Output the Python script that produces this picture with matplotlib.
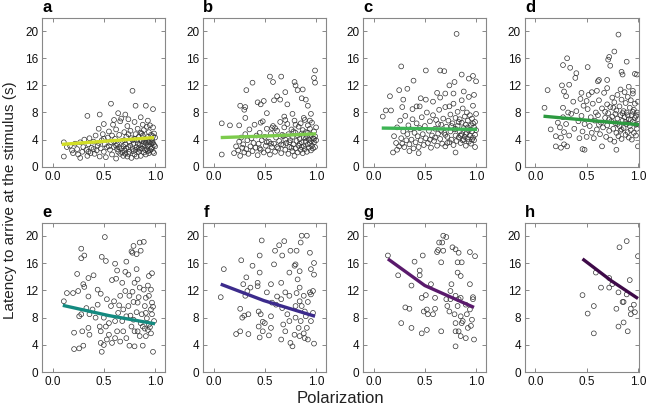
import numpy as np
import matplotlib
matplotlib.use('Agg')
import matplotlib.pyplot as plt

plt.rcParams['font.family'] = ['Liberation Sans', 'DejaVu Sans']

# (polarization, latency)
a_pts = [(0.11, 1.5), (0.11, 3.6), (0.34, 7.5), (0.46, 7.7), (0.57, 9.3), (0.78, 11.2), (0.81, 9.0), (0.91, 9.0),
         (0.98, 8.5), (0.64, 7.9), (0.71, 7.7), (0.5, 6.3), (0.6, 6.9), (0.67, 7.1), (0.74, 7.0), (0.86, 7.3),
         (0.93, 6.8), (0.95, 6.1), (0.98, 5.8), (0.88, 6.2), (0.14, 2.9), (0.17, 3.1), (0.19, 2.4), (0.2, 2.0),
         (0.22, 3.4), (0.24, 2.6), (0.25, 1.8), (0.27, 1.3), (0.27, 3.6), (0.29, 2.2), (0.3, 2.9), (0.31, 4.0),
         (0.33, 2.5), (0.34, 1.6), (0.35, 3.3), (0.36, 4.2), (0.37, 2.0), (0.38, 2.8), (0.4, 3.7), (0.41, 1.9),
         (0.42, 4.6), (0.43, 2.4), (0.44, 3.1), (0.45, 5.6), (0.46, 1.5), (0.47, 2.7), (0.48, 3.9), (0.49, 4.8),
         (0.5, 2.2), (0.51, 3.3), (0.52, 1.4), (0.53, 2.9), (0.54, 4.3), (0.55, 5.2), (0.56, 2.5), (0.57, 3.6),
         (0.58, 1.8), (0.59, 6.2), (0.6, 2.9), (0.61, 4.1), (0.62, 1.2), (0.62, 5.5), (0.63, 3.3), (0.64, 2.2),
         (0.65, 4.7), (0.66, 6.7), (0.67, 2.7), (0.68, 3.8), (0.69, 1.6), (0.7, 5.1), (0.7, 2.4), (0.71, 3.3),
         (0.72, 4.4), (0.73, 6.0), (0.74, 1.9), (0.74, 2.9), (0.75, 3.7), (0.76, 5.3), (0.77, 1.3), (0.77, 4.2),
         (0.78, 2.6), (0.79, 3.4), (0.8, 6.6), (0.8, 1.8), (0.81, 4.8), (0.82, 2.9), (0.82, 3.9), (0.83, 5.6),
         (0.84, 2.2), (0.84, 4.4), (0.85, 3.2), (0.86, 1.6), (0.86, 5.0), (0.87, 2.7), (0.87, 3.8), (0.88, 4.6),
         (0.89, 2.1), (0.89, 5.4), (0.9, 3.0), (0.9, 4.1), (0.91, 1.8), (0.91, 3.5), (0.92, 5.9), (0.92, 2.6),
         (0.93, 4.4), (0.93, 3.1), (0.94, 2.0), (0.94, 5.1), (0.95, 3.7), (0.95, 2.4), (0.96, 4.7), (0.96, 3.3),
         (0.97, 2.8), (0.97, 4.0), (0.98, 2.2), (0.98, 3.5), (0.99, 4.9), (0.99, 2.0), (1.0, 3.0), (1.0, 4.3),
         (0.55, 3.0), (0.6, 3.7), (0.65, 2.9), (0.68, 2.1), (0.72, 2.7), (0.76, 3.1), (0.79, 2.3), (0.83, 3.4),
         (0.85, 2.5), (0.88, 3.3), (0.92, 3.9), (0.96, 2.6), (0.35, 2.2), (0.4, 2.6), (0.45, 3.5), (0.5, 4.1),
         (0.58, 4.6), (0.63, 2.6), (0.7, 3.9), (0.75, 2.2), (0.8, 4.1), (0.87, 4.9), (0.9, 2.5), (0.94, 3.6),
         (0.98, 4.5), (0.73, 1.5), (0.66, 1.9), (0.82, 1.5), (0.62, 3.1), (0.69, 3.0), (0.74, 4.8), (0.78, 3.9),
         (0.84, 2.7), (0.89, 3.7), (0.93, 2.3), (0.97, 3.6), (0.99, 3.2), (0.86, 4.0), (0.81, 2.5), (0.71, 1.9)]

b_pts = [(0.08, 1.8), (0.08, 6.4), (0.16, 6.1), (0.25, 6.1), (0.26, 9.0), (0.31, 8.8), (0.30, 8.4), (0.32, 11.3),
         (0.38, 12.4), (0.31, 7.2), (0.43, 9.5), (0.46, 9.2), (0.49, 9.7), (0.55, 13.3), (0.58, 12.5), (0.59, 9.8),
         (0.62, 10.4), (0.65, 9.9), (0.66, 13.3), (0.70, 11.0), (0.72, 9.2), (0.80, 12.0), (0.79, 12.5), (0.82, 11.3),
         (0.87, 11.4), (0.86, 10.1), (0.90, 9.9), (0.92, 9.0), (0.98, 13.1), (0.99, 14.2), (0.99, 12.4), (0.95, 7.8),
         (0.77, 7.8), (0.69, 7.4), (0.52, 7.9), (0.46, 6.5), (0.57, 5.7),
         (0.2, 2.0), (0.22, 3.0), (0.24, 2.4), (0.25, 3.7), (0.26, 1.6), (0.27, 4.3), (0.28, 2.8), (0.29, 3.3),
         (0.3, 2.1), (0.31, 4.8), (0.32, 2.6), (0.33, 3.9), (0.34, 1.9), (0.35, 5.5), (0.36, 3.0), (0.37, 4.2),
         (0.38, 2.3), (0.39, 3.5), (0.4, 6.2), (0.41, 2.8), (0.42, 4.6), (0.43, 1.7), (0.44, 3.4), (0.45, 5.0),
         (0.46, 2.5), (0.47, 3.9), (0.48, 6.7), (0.49, 2.1), (0.5, 4.4), (0.51, 3.1), (0.52, 5.6), (0.53, 2.4),
         (0.54, 3.7), (0.55, 1.8), (0.56, 4.9), (0.57, 2.9), (0.58, 6.0), (0.59, 3.4), (0.6, 2.2), (0.61, 4.3),
         (0.62, 5.3), (0.63, 2.7), (0.64, 3.8), (0.65, 6.6), (0.66, 2.0), (0.67, 4.7), (0.68, 3.2), (0.69, 5.8),
         (0.7, 2.5), (0.7, 4.0), (0.71, 3.5), (0.72, 6.3), (0.73, 1.9), (0.73, 4.8), (0.74, 2.9), (0.75, 3.9),
         (0.76, 5.5), (0.77, 2.3), (0.77, 4.4), (0.78, 3.3), (0.79, 6.8), (0.79, 1.6), (0.8, 5.0), (0.8, 2.7),
         (0.81, 3.8), (0.82, 4.6), (0.82, 2.1), (0.83, 5.9), (0.83, 3.1), (0.84, 4.1), (0.85, 2.5), (0.85, 6.4),
         (0.86, 3.6), (0.86, 4.9), (0.87, 2.0), (0.87, 5.4), (0.88, 3.0), (0.88, 4.3), (0.89, 6.9), (0.89, 2.6),
         (0.9, 3.7), (0.9, 5.1), (0.91, 2.2), (0.91, 4.5), (0.92, 3.3), (0.92, 6.1), (0.93, 2.8), (0.93, 4.0),
         (0.94, 5.6), (0.94, 3.5), (0.95, 2.4), (0.95, 4.7), (0.96, 3.1), (0.96, 6.5), (0.97, 4.2), (0.97, 2.7),
         (0.98, 5.2), (0.98, 3.6), (0.99, 4.5), (0.99, 2.9), (1.0, 3.9), (1.0, 5.8), (0.56, 3.4), (0.62, 2.9),
         (0.68, 4.5), (0.74, 3.6), (0.78, 5.2), (0.84, 3.4), (0.9, 4.2), (0.95, 3.8), (0.45, 2.7), (0.52, 3.6),
         (0.66, 3.3), (0.76, 2.8), (0.86, 2.9), (0.92, 5.0), (0.98, 4.1), (0.6, 5.7), (0.7, 6.9), (0.8, 6.2),
         (0.88, 7.2), (0.94, 6.8)]

c_pts = [(0.09, 7.4), (0.12, 8.3), (0.16, 10.4), (0.17, 8.3), (0.27, 14.8), (0.25, 11.3), (0.29, 9.9), (0.33, 11.5),
         (0.28, 8.8), (0.39, 12.7), (0.42, 8.9), (0.46, 10.1), (0.51, 9.9), (0.51, 14.2), (0.65, 14.2), (0.69, 14.1),
         (0.81, 19.6), (0.79, 12.5), (0.86, 13.6), (0.93, 13.0), (0.97, 13.4), (1.0, 12.6), (0.74, 12.0), (0.62, 10.9),
         (0.70, 10.8), (0.88, 11.1), (0.19, 2.1), (0.23, 2.5), (0.35, 2.3), (0.44, 2.0), (0.80, 2.1), (0.99, 2.9),
         (0.2, 4.5), (0.22, 3.5), (0.23, 5.8), (0.25, 3.0), (0.26, 6.8), (0.27, 4.2), (0.28, 3.4), (0.29, 5.2),
         (0.3, 2.9), (0.31, 7.5), (0.32, 3.9), (0.33, 4.8), (0.34, 6.1), (0.35, 3.3), (0.36, 5.5), (0.37, 4.0),
         (0.38, 7.0), (0.39, 2.7), (0.4, 5.0), (0.41, 3.6), (0.42, 6.4), (0.43, 4.5), (0.44, 2.9), (0.45, 5.7),
         (0.46, 3.9), (0.47, 7.3), (0.48, 4.8), (0.49, 3.2), (0.5, 6.0), (0.51, 4.2), (0.52, 8.0), (0.53, 3.5),
         (0.54, 5.3), (0.55, 6.7), (0.56, 2.8), (0.57, 4.6), (0.58, 7.6), (0.59, 3.8), (0.6, 5.6), (0.61, 6.9),
         (0.62, 3.1), (0.63, 4.9), (0.64, 8.4), (0.65, 4.1), (0.66, 6.2), (0.67, 3.4), (0.68, 7.1), (0.69, 5.0),
         (0.7, 3.0), (0.7, 8.8), (0.71, 5.9), (0.72, 4.4), (0.73, 6.8), (0.74, 3.6), (0.75, 7.7), (0.75, 5.2),
         (0.76, 4.0), (0.77, 6.4), (0.78, 3.2), (0.78, 9.3), (0.79, 5.5), (0.8, 4.6), (0.8, 7.2), (0.81, 3.8),
         (0.82, 6.0), (0.82, 8.1), (0.83, 4.3), (0.84, 5.2), (0.84, 7.0), (0.85, 3.5), (0.86, 6.5), (0.86, 4.8),
         (0.87, 8.6), (0.87, 3.9), (0.88, 5.7), (0.89, 7.4), (0.89, 4.4), (0.9, 3.1), (0.9, 6.2), (0.91, 5.0),
         (0.91, 8.0), (0.92, 4.1), (0.92, 6.8), (0.93, 3.7), (0.93, 5.4), (0.94, 7.6), (0.94, 4.6), (0.95, 6.1),
         (0.95, 3.4), (0.96, 5.2), (0.96, 7.1), (0.97, 4.3), (0.97, 9.0), (0.98, 5.8), (0.98, 3.9), (0.99, 6.6),
         (0.99, 4.7), (1.0, 5.4), (1.0, 7.8), (0.6, 4.3), (0.66, 5.3), (0.72, 3.5), (0.76, 6.0), (0.8, 5.6),
         (0.85, 4.6), (0.88, 4.0), (0.92, 5.8), (0.96, 4.0), (0.55, 4.0), (0.63, 6.3), (0.7, 4.7), (0.83, 6.6),
         (0.9, 4.8), (0.97, 6.4), (0.74, 8.9), (0.86, 9.8), (0.93, 10.3), (0.98, 10.6), (0.58, 9.6), (0.65, 10.2),
         (0.45, 8.9), (0.38, 8.5), (0.78, 10.8)]

d_pts = [(0.09, 8.7), (0.12, 11.3), (0.15, 5.5), (0.31, 16.0), (0.27, 15.0), (0.34, 14.6), (0.40, 13.8), (0.39, 13.1),
         (0.51, 14.7), (0.26, 12.0), (0.33, 12.1), (0.28, 11.1), (0.30, 10.4), (0.27, 8.7), (0.20, 3.0), (0.25, 2.8),
         (0.28, 3.3), (0.31, 3.0), (0.46, 2.6), (0.48, 2.5), (0.81, 19.5), (0.77, 17.0), (0.72, 16.2), (0.71, 15.8),
         (0.73, 14.9), (0.89, 15.5), (0.61, 12.6), (0.62, 12.8), (0.70, 12.8), (0.84, 14.0), (0.85, 13.6), (0.97, 13.7),
         (0.99, 13.6), (0.79, 2.5), (1.0, 3.0), (0.65, 3.0),
         (0.2, 4.5), (0.22, 6.5), (0.24, 5.8), (0.25, 4.3), (0.27, 7.3), (0.28, 5.1), (0.3, 6.3), (0.32, 8.0),
         (0.33, 4.6), (0.35, 7.8), (0.37, 9.6), (0.38, 5.6), (0.4, 8.2), (0.42, 6.7), (0.43, 4.2), (0.44, 10.0),
         (0.45, 7.5), (0.46, 5.2), (0.47, 9.0), (0.48, 6.3), (0.5, 4.4), (0.51, 8.5), (0.52, 10.6), (0.53, 6.0),
         (0.54, 7.3), (0.55, 5.0), (0.56, 9.3), (0.57, 4.2), (0.58, 6.8), (0.59, 8.0), (0.6, 5.5), (0.61, 7.6),
         (0.62, 9.8), (0.63, 4.8), (0.64, 6.5), (0.65, 8.6), (0.66, 5.8), (0.67, 10.9), (0.68, 7.2), (0.69, 4.4),
         (0.7, 6.1), (0.7, 9.2), (0.71, 7.9), (0.72, 5.3), (0.73, 8.8), (0.73, 4.0), (0.74, 6.7), (0.75, 10.2),
         (0.75, 7.4), (0.76, 5.6), (0.77, 9.5), (0.77, 3.7), (0.78, 6.4), (0.79, 8.3), (0.79, 5.0), (0.8, 7.1),
         (0.8, 10.6), (0.81, 4.5), (0.82, 6.0), (0.82, 8.9), (0.83, 7.6), (0.83, 5.3), (0.84, 9.9), (0.84, 4.1),
         (0.85, 6.8), (0.86, 8.2), (0.86, 5.7), (0.87, 11.0), (0.87, 7.3), (0.88, 4.7), (0.88, 9.4), (0.89, 6.3),
         (0.89, 8.0), (0.9, 5.1), (0.9, 10.3), (0.91, 7.0), (0.91, 4.3), (0.92, 8.7), (0.92, 6.0), (0.93, 9.8),
         (0.93, 5.4), (0.94, 7.6), (0.94, 4.0), (0.95, 6.6), (0.95, 10.8), (0.96, 8.4), (0.96, 5.0), (0.97, 7.2),
         (0.97, 9.3), (0.98, 6.2), (0.98, 4.6), (0.99, 8.0), (0.99, 5.6), (1.0, 7.0), (1.0, 9.6), (0.72, 7.0),
         (0.78, 7.8), (0.85, 7.9), (0.9, 7.6), (0.95, 8.1), (0.8, 6.3), (0.88, 6.6), (0.93, 6.9), (0.76, 8.7),
         (0.84, 5.5), (0.62, 6.2), (0.68, 8.1), (0.98, 7.5), (0.6, 11.2), (0.7, 11.6), (0.83, 11.4), (0.91, 11.8),
         (0.95, 11.2), (0.55, 11.0), (0.5, 9.7), (0.45, 10.9)]

e_pts = [(0.11, 10.4), (0.14, 11.6), (0.2, 11.6), (0.21, 5.8), (0.21, 3.4), (0.26, 3.5), (0.30, 3.9), (0.28, 18.1),
         (0.28, 16.7), (0.31, 17.1), (0.24, 14.4), (0.30, 12.9), (0.31, 12.5), (0.25, 11.9), (0.35, 13.8), (0.40, 14.2),
         (0.26, 8.2), (0.28, 8.5), (0.36, 8.5), (0.35, 6.5), (0.36, 5.5), (0.29, 6.0), (0.35, 11.1), (0.44, 12.1),
         (0.47, 11.5), (0.48, 16.9), (0.52, 16.3), (0.51, 19.8), (0.48, 3.0), (0.50, 4.0), (0.47, 4.3), (0.46, 6.7),
         (0.52, 6.7), (0.55, 7.2), (0.61, 7.5), (0.61, 15.9), (0.63, 14.9), (0.58, 13.5), (0.62, 13.7), (0.68, 13.1),
         (0.71, 14.7), (0.72, 16.2), (0.74, 14.3), (0.77, 17.7), (0.79, 18.5), (0.78, 17.5), (0.82, 17.3), (0.85, 19.0),
         (0.89, 19.1), (0.86, 17.8), (0.82, 15.1), (0.85, 12.4), (0.89, 12.1), (0.94, 14.1), (0.97, 14.5), (0.98, 3.0),
         (0.80, 3.8), (0.75, 3.9), (0.88, 3.9), (0.66, 4.5), (0.58, 4.3), (0.72, 5.0), (0.64, 8.7), (0.69, 9.2),
         (0.74, 9.7), (0.79, 10.3), (0.83, 10.2), (0.91, 10.9), (0.94, 11.2), (0.97, 10.2), (0.96, 9.2), (0.91, 8.7),
         (0.88, 6.7), (0.93, 6.2), (0.96, 5.7), (0.83, 6.0), (0.79, 7.7), (0.72, 8.2), (0.68, 7.5), (0.63, 6.0),
         (0.55, 5.5), (0.50, 8.0), (0.57, 9.7), (0.60, 10.4), (0.53, 10.7), (0.44, 9.9), (0.39, 9.2), (0.66, 11.2),
         (0.71, 11.9), (0.75, 11.2), (0.80, 13.1), (0.83, 13.6), (0.93, 12.7), (0.96, 12.1), (0.77, 6.7), (0.80, 6.0),
         (0.85, 5.3), (0.91, 5.3), (0.94, 7.0), (0.97, 8.5), (0.99, 7.5), (0.87, 8.5), (0.90, 9.7), (0.69, 6.0),
         (0.61, 5.0), (0.53, 4.8), (0.47, 6.0), (0.42, 8.0), (0.33, 9.4), (0.86, 7.2), (0.92, 7.9), (0.95, 6.6),
         (0.82, 8.8), (0.76, 8.3), (0.90, 6.4), (0.98, 9.6), (0.84, 11.0), (0.78, 11.8), (0.65, 9.8)]

f_pts = [(0.07, 11.0), (0.10, 15.1), (0.27, 16.4), (0.22, 5.6), (0.26, 6.0), (0.34, 5.6), (0.28, 8.0), (0.30, 8.3),
         (0.34, 8.5), (0.26, 9.3), (0.31, 11.2), (0.33, 11.9), (0.32, 13.9), (0.29, 12.9), (0.38, 15.6), (0.43, 12.6),
         (0.43, 13.1), (0.45, 17.1), (0.47, 19.3), (0.45, 14.6), (0.44, 8.9), (0.46, 8.5), (0.44, 6.7), (0.48, 6.0),
         (0.45, 5.1), (0.50, 7.2), (0.48, 7.4), (0.52, 11.7), (0.56, 12.9), (0.57, 10.2), (0.54, 5.4), (0.56, 8.2),
         (0.61, 9.9), (0.62, 11.1), (0.60, 17.8), (0.59, 15.8), (0.64, 18.6), (0.69, 19.2), (0.67, 17.1), (0.66, 10.7),
         (0.67, 9.4), (0.68, 7.0), (0.66, 4.8), (0.70, 11.7), (0.74, 14.6), (0.75, 17.8), (0.74, 11.2), (0.72, 8.5),
         (0.74, 7.5), (0.75, 4.3), (0.77, 3.8), (0.79, 5.5), (0.80, 8.0), (0.79, 15.6), (0.80, 15.8), (0.81, 17.8),
         (0.84, 14.8), (0.85, 19.0), (0.86, 20.0), (0.91, 20.0), (0.94, 17.5), (0.95, 15.1), (0.98, 14.3), (0.98, 16.0),
         (0.82, 13.6), (0.84, 12.4), (0.81, 11.6), (0.84, 10.4), (0.86, 9.7), (0.89, 8.9), (0.90, 8.2), (0.92, 10.3),
         (0.95, 11.4), (0.97, 11.9), (0.94, 11.7), (0.88, 11.2), (0.85, 7.5), (0.83, 6.5), (0.88, 5.7), (0.89, 5.0),
         (0.84, 5.3), (0.91, 6.5), (0.95, 7.5), (0.97, 8.7), (0.98, 4.2), (0.70, 6.0), (0.56, 6.5), (0.36, 12.4),
         (0.66, 13.1), (0.92, 4.8), (0.80, 9.7)]

g_pts = [(0.14, 17.1), (0.24, 14.2), (0.27, 7.2), (0.31, 9.5), (0.35, 9.3), (0.37, 12.7), (0.37, 6.5), (0.40, 16.2),
         (0.45, 14.9), (0.45, 14.2), (0.48, 17.1), (0.47, 10.9), (0.51, 11.3), (0.49, 8.9), (0.52, 9.2), (0.53, 8.5),
         (0.47, 5.7), (0.52, 6.2), (0.56, 12.9), (0.58, 8.5), (0.60, 9.3), (0.60, 10.9), (0.62, 17.6), (0.63, 17.9),
         (0.64, 19.0), (0.67, 19.0), (0.68, 20.0), (0.71, 19.8), (0.68, 17.8), (0.66, 16.1), (0.66, 6.0), (0.71, 10.7),
         (0.72, 9.7), (0.75, 10.7), (0.74, 8.9), (0.75, 11.9), (0.76, 12.9), (0.77, 18.3), (0.80, 18.0), (0.83, 17.5),
         (0.82, 16.1), (0.86, 16.1), (0.82, 14.6), (0.85, 14.1), (0.80, 11.2), (0.83, 10.7), (0.85, 10.9), (0.82, 9.7),
         (0.79, 8.5), (0.80, 7.2), (0.85, 8.2), (0.86, 7.2), (0.87, 7.5), (0.83, 6.0), (0.80, 6.0), (0.85, 5.3),
         (0.90, 5.0), (0.80, 3.8), (0.90, 9.9), (0.91, 8.5), (0.92, 6.5), (0.95, 6.8), (0.96, 7.7), (0.94, 9.2),
         (0.97, 10.7), (0.94, 12.9), (0.94, 17.6), (0.99, 17.0), (0.98, 4.8), (0.97, 11.0)]

h_pts = [(0.46, 11.3), (0.51, 8.6), (0.57, 9.7), (0.57, 5.7), (0.59, 14.6), (0.64, 12.4), (0.72, 12.4), (0.72, 13.8),
         (0.82, 18.3), (0.89, 19.2), (1.0, 17.0), (0.92, 13.5), (0.79, 9.3), (0.81, 11.7), (0.81, 6.7), (0.85, 10.3),
         (0.86, 10.3), (0.86, 7.3), (0.90, 6.0), (0.89, 11.4), (0.93, 9.3), (0.93, 8.5), (0.96, 9.9), (0.97, 8.8),
         (0.75, 12.9)]

# fitted lines (start, middle, end)
fit_x = [[0.09, 0.55, 0.99], [0.07, 0.55, 1.0], [0.08, 0.55, 1.01], [0.08, 0.55, 1.01],
         [0.10, 0.55, 1.0], [0.07, 0.49, 0.99], [0.14, 0.50, 0.98], [0.46, 0.74, 1.0]]
fit_y = [[3.3, 3.8, 4.3], [4.3, 4.55, 4.85], [5.7, 5.6, 5.5], [7.45, 6.8, 6.2],
         [9.8, 8.3, 7.1], [12.9, 10.5, 8.2], [16.6, 12.7, 9.5], [16.6, 13.4, 10.8]]

panels = ['a', 'b', 'c', 'd', 'e', 'f', 'g', 'h']
all_pts = [a_pts, b_pts, c_pts, d_pts, e_pts, f_pts, g_pts, h_pts]
colors = ['#d2de26', '#7ccb4c', '#3db454', '#2c9a40', '#148a80', '#3c2b8c', '#5a1a6c', '#3e0a48']

fig = plt.figure(figsize=(6.48, 4.11), dpi=100)
W, H = 648, 411
lefts = [42.3, 203.3, 363.3, 525]
tops = [18.3, 222.7]
heights = [148.4, 149.6]

for i, name in enumerate(panels):
    r, c = divmod(i, 4)
    w = 114 if c == 3 else 123
    ax = fig.add_axes([lefts[c] / W, 1 - (tops[r] + heights[r]) / H, w / W, heights[r] / H])
    px, py = np.array(all_pts[i]).T
    ax.scatter(px, py, s=12, facecolors='none', edgecolors='#333333', linewidths=0.5, zorder=2)
    ax.plot(fit_x[i], fit_y[i], color=colors[i], lw=2.4, solid_capstyle='butt', zorder=3)
    ax.set_xlim(-0.1, 1.01 if c == 3 else 1.1)
    ax.set_ylim(0, 21.9)
    ax.set_xticks([0, 0.5, 1.0])
    ax.set_xticklabels(['0.0', '0.5', '1.0'])
    ax.set_yticks([0, 4, 8, 12, 16, 20])
    ax.tick_params(direction='in', length=3, width=0.7, color='#888888', labelsize=8.5,
                   labelcolor='#111111', top=True, right=True, pad=3)
    for s in ax.spines.values():
        s.set_color('#888888')
        s.set_linewidth(0.8)
    ax.text(0, 1.02, name, transform=ax.transAxes, fontsize=12, fontweight='bold', ha='left', va='bottom')

fig.text(10 / W, 1 - 200 / H, 'Latency to arrive at the stimulus (s)', rotation=90, fontsize=11,
         ha='center', va='center', color='#222222')
fig.text(340 / W, 1 - 398 / H, 'Polarization', fontsize=12, ha='center', va='center', color='#222222')

fig.savefig('out.png', dpi=100)
